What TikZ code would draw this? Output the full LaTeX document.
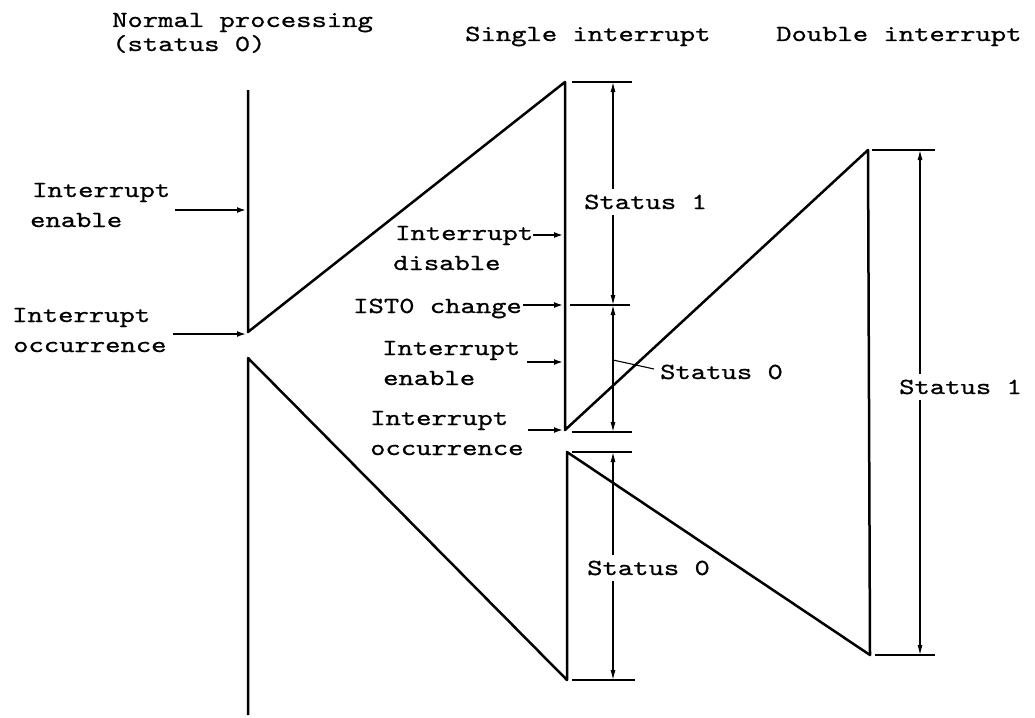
\documentclass[tikz,border=0pt]{standalone}
\usepackage{fontspec}
\usetikzlibrary{arrows.meta}
\newfontfamily\tw{lmmono10-regular}[Extension=.otf,FakeStretch=1.27,FakeBold=0.8]
\begin{document}
\begin{tikzpicture}[x=1pt,y=-1pt,
  main/.style={line width=2.5pt,line join=round},
  tickln/.style={line width=1.9pt},
  dimln/.style={line width=1.1pt,{Latex[length=10pt,width=5pt]}-{Latex[length=10pt,width=5pt]}},
  ptr/.style={line width=1.7pt,-{Latex[length=9pt,width=6pt]}},
  lbl/.style={font=\tw\fontsize{23}{28}\selectfont,anchor=base west,inner sep=0pt},
  dlbl/.style={lbl,fill=white,inner xsep=2pt,inner ysep=6pt}]
\fill[white] (0,0) rectangle (1035,717);
\useasboundingbox (0,0) rectangle (1035,717);

% titles
\node[lbl] (np1) at (112,27) {Normal processing};
\node[lbl] (np2) at (112,51) {(status 0)};
\node[lbl] (si) at (465,41) {Single interrupt};
\node[lbl] (di) at (776,41) {Double interrupt};

% main waveform
\coordinate (L0) at (248,90);
\coordinate (L1) at (248,332);
\coordinate (L2) at (248,358);
\coordinate (L3) at (248,715);
\coordinate (S0) at (565,82);
\coordinate (S1) at (565,430);
\coordinate (S2) at (567,452);
\coordinate (S3) at (567,680);
\coordinate (D0) at (868,150);
\coordinate (D1) at (870,655);
\draw[main] (L0) -- (L1) -- (S0) -- (S1) -- (D0) -- (D1) -- (S2) -- (S3) -- (L2) -- (L3);

% ticks
\coordinate (a1) at (572,82);  \coordinate (b1) at (632,82);
\coordinate (a2) at (570,305); \coordinate (b2) at (630,305);
\coordinate (a3) at (572,432); \coordinate (b3) at (632,432);
\coordinate (a4) at (572,452); \coordinate (b4) at (632,452);
\coordinate (a5) at (572,680); \coordinate (b5) at (635,680);
\coordinate (a6) at (872,150); \coordinate (b6) at (935,150);
\coordinate (a7) at (875,655); \coordinate (b7) at (935,655);
\foreach \i in {1,...,7} {\draw[tickln] (a\i) -- (b\i);}

% dimension arrows
\coordinate (m1) at (613,82);
\coordinate (m2) at (613,305);
\coordinate (m3) at (613,432);
\coordinate (m4) at (613,452);
\coordinate (m5) at (613,680);
\coordinate (r1) at (920,150);
\coordinate (r2) at (920,655);
\draw[dimln] (m1) -- (m2);
\draw[dimln] (m2) -- (m3);
\draw[dimln] (m4) -- (m5);
\draw[dimln] (r1) -- (r2);

% status labels
\node[dlbl] (st1) at (582,209) {Status 1};
\node[dlbl] (st0b) at (585,575) {Status 0};
\node[dlbl] (st1r) at (897,394) {Status 1};
\node[lbl] (st0m) at (660,379) {Status 0};
\coordinate (q1) at (613,360);
\coordinate (q2) at (654,369);
\draw[line width=1.1pt] (q1) -- (q2);

% left labels
\node[lbl] (le1) at (32,197) {Interrupt};
\node[lbl] (le2) at (30,227) {enable};
\node[lbl] (lo1) at (12,322) {Interrupt};
\node[lbl] (lo2) at (13,352) {occurrence};
\coordinate (p1s) at (175,210); \coordinate (p1e) at (246,210);
\coordinate (p2s) at (173,334); \coordinate (p2e) at (246,334);
\draw[ptr] (p1s) -- (p1e);
\draw[ptr] (p2s) -- (p2e);

% single-interrupt labels
\node[lbl] (sd1) at (395,240) {Interrupt};
\node[lbl] (sd2) at (393,270) {disable};
\node[lbl] (sc) at (353,313) {IST0 change};
\node[lbl] (se1) at (382,355) {Interrupt};
\node[lbl] (se2) at (383,385) {enable};
\node[lbl] (so1) at (370,425) {Interrupt};
\node[lbl] (so2) at (370,455) {occurrence};
\coordinate (p3s) at (533,235); \coordinate (p3e) at (563,235);
\coordinate (p4s) at (523,305); \coordinate (p4e) at (563,305);
\coordinate (p5s) at (527,362); \coordinate (p5e) at (563,362);
\coordinate (p6s) at (528,430); \coordinate (p6e) at (563,430);
\draw[ptr] (p3s) -- (p3e);
\draw[ptr] (p4s) -- (p4e);
\draw[ptr] (p5s) -- (p5e);
\draw[ptr] (p6s) -- (p6e);
\end{tikzpicture}
\end{document}
